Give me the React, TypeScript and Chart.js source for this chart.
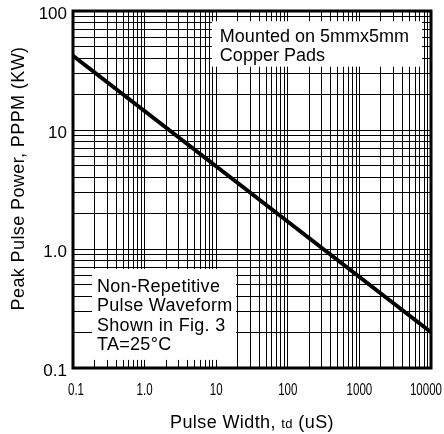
import React, { useEffect, useRef } from "react";
import { Chart, registerables } from "chart.js";

Chart.register(...registerables);

// Data (log-log straight line)
const pulseWidthUs = [0.1, 10000];
const peakPowerKW = [42, 0.2];

// Axis ticks
const xTickValues = [0.1, 1, 10, 100, 1000, 10000];
const xTickLabels = ["0.1", "1.0", "10", "100", "1000", "10000"];
const yTickValues = [0.1, 1, 10, 100];
const yTickLabels = ["0.1", "1.0", "10", "100"];

// Annotation texts
const noteTopLines = ["Mounted on 5mmx5mm", "Copper Pads"];
const noteBottomLines = ["Non-Repetitive", "Pulse Waveform", "Shown in Fig. 3", "TA=25°C"];

const yTitleParts = ["Peak Pulse Power, PPPM (KW)"];
const xTitleParts = ["Pulse Width, ", "td", " (uS)"];

const SANS = "'Liberation Sans', Arial, sans-serif";

function logGridTicks(min: number, max: number) {
  const out: { value: number }[] = [];
  let decade = min;
  while (decade < max * 0.999) {
    for (let k = 1; k <= 9; k++) out.push({ value: +(decade * k).toPrecision(6) });
    decade *= 10;
  }
  out.push({ value: max });
  return out;
}

const decorPlugin = {
  id: "decor",
  beforeDatasetsDraw(chart: any) {
    const { ctx } = chart;
    const xs = chart.scales.x;
    const ys = chart.scales.y;
    ctx.save();
    // top-right note box (data coordinates)
    const b1 = { x0: xs.getPixelForValue(8.7), x1: xs.getPixelForValue(7500), y0: ys.getPixelForValue(82), y1: ys.getPixelForValue(34) };
    ctx.fillStyle = "#fff";
    ctx.fillRect(b1.x0, b1.y0, b1.x1 - b1.x0, b1.y1 - b1.y0);
    // bottom-left note box
    const b2 = { x0: xs.getPixelForValue(0.184), x1: xs.getPixelForValue(19), y0: ys.getPixelForValue(0.68), y1: ys.getPixelForValue(0.117) };
    ctx.fillRect(b2.x0, b2.y0, b2.x1 - b2.x0, b2.y1 - b2.y0);

    ctx.fillStyle = "#000";
    ctx.font = "18px " + SANS;
    ctx.textAlign = "left";
    ctx.textBaseline = "alphabetic";
    noteTopLines.forEach((t, i) => ctx.fillText(t, b1.x0 + 8, b1.y0 + 21 + i * 19));
    (ctx as any).letterSpacing = "0.3px";
    noteBottomLines.forEach((t, i) => ctx.fillText(t, b2.x0 + 5, b2.y0 + 23 + i * 19.3));
    ctx.restore();
  },
  afterDraw(chart: any) {
    const { ctx, chartArea } = chart;
    const xs = chart.scales.x;
    const ys = chart.scales.y;
    ctx.save();
    ctx.strokeStyle = "#000";
    ctx.lineWidth = 3;
    ctx.strokeRect(chartArea.left, chartArea.top, chartArea.right - chartArea.left, chartArea.bottom - chartArea.top);

    ctx.fillStyle = "#000";

    // Y tick labels
    ctx.font = "17px " + SANS;
    ctx.textAlign = "right";
    ctx.textBaseline = "middle";
    yTickValues.forEach((v, i) => {
      ctx.fillText(yTickLabels[i], chartArea.left - 6, ys.getPixelForValue(v) + 3);
    });

    // X tick labels, condensed
    ctx.font = "16px " + SANS;
    ctx.textAlign = "center";
    xTickValues.forEach((v, i) => {
      const w = ctx.measureText(xTickLabels[i]).width * 0.72;
      let px = xs.getPixelForValue(v);
      px = Math.max(px, chartArea.left - 5 + w / 2);
      px = Math.min(px, chart.width - 2 - w / 2);
      ctx.save();
      ctx.translate(px, chartArea.bottom + 23);
      ctx.scale(0.72, 1);
      ctx.fillText(xTickLabels[i], 0, 0);
      ctx.restore();
    });

    (ctx as any).letterSpacing = "0.4px";
    // Y title
    ctx.save();
    ctx.translate(chartArea.left - 54, (chartArea.top + chartArea.bottom) / 2 - 11);
    ctx.rotate(-Math.PI / 2);
    ctx.font = "18px " + SANS;
    ctx.textAlign = "center";
    ctx.textBaseline = "middle";
    ctx.fillText(yTitleParts.join(""), 0, 0);
    ctx.restore();

    // X title with smaller "td"
    const fonts = ["18px " + SANS, "13px " + SANS, "18px " + SANS];
    let total = 0;
    const widths = xTitleParts.map((p, i) => {
      ctx.font = fonts[i];
      const w = ctx.measureText(p).width;
      total += w;
      return w;
    });
    let x = (chartArea.left + chartArea.right) / 2 - total / 2;
    const baseY = chartArea.bottom + 60;
    ctx.textAlign = "left";
    ctx.textBaseline = "alphabetic";
    xTitleParts.forEach((p, i) => {
      ctx.font = fonts[i];
      ctx.fillText(p, x, baseY);
      x += widths[i];
    });
    ctx.restore();
  },
};

export default function App() {
  const canvasRef = useRef<HTMLCanvasElement | null>(null);

  useEffect(() => {
    if (!canvasRef.current) return;
    const chart = new Chart(canvasRef.current, {
      type: "line",
      data: {
        datasets: [
          {
            data: pulseWidthUs.map((x, i) => ({ x, y: peakPowerKW[i] })),
            borderColor: "#000",
            borderWidth: 4,
            pointRadius: 0,
            fill: false,
            tension: 0,
          },
        ],
      },
      options: {
        animation: false,
        responsive: true,
        maintainAspectRatio: false,
        layout: { padding: { left: 0, right: 13, top: 11, bottom: 0 } },
        plugins: { legend: { display: false }, tooltip: { enabled: false }, title: { display: false } },
        scales: {
          x: {
            type: "logarithmic",
            min: 0.1,
            max: 10000,
            afterBuildTicks: (s: any) => {
              s.ticks = logGridTicks(0.1, 10000);
            },
            afterFit: (s: any) => {
              s.height = 66;
              s.paddingLeft = 0;
              s.paddingRight = 0;
            },
            grid: { color: "#000", lineWidth: 1, drawTicks: false },
            border: { display: false },
            ticks: { display: false, autoSkip: false, maxRotation: 0 },
          },
          y: {
            type: "logarithmic",
            min: 0.1,
            max: 100,
            afterBuildTicks: (s: any) => {
              s.ticks = logGridTicks(0.1, 100);
            },
            afterFit: (s: any) => {
              s.width = 73;
              s.paddingTop = 0;
              s.paddingBottom = 0;
            },
            grid: { color: "#000", lineWidth: 1, drawTicks: false },
            border: { display: false },
            ticks: { display: false, autoSkip: false },
          },
        },
      },
      plugins: [decorPlugin],
    });
    return () => chart.destroy();
  }, []);

  return (
    <div style={{ position: "fixed", left: 0, top: 0, width: 444, height: 434, background: "#fff" }}>
      <canvas ref={canvasRef} />
    </div>
  );
}
